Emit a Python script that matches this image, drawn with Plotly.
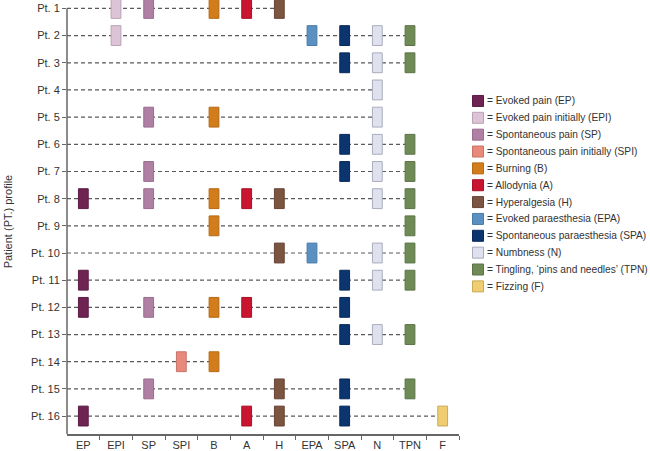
import plotly.graph_objects as go

# ---- data ----
categories = ["EP", "EPI", "SP", "SPI", "B", "A", "H", "EPA", "SPA", "N", "TPN", "F"]
legend_labels = [
    "= Evoked pain (EP)",
    "= Evoked pain initially (EPI)",
    "= Spontaneous pain (SP)",
    "= Spontaneous pain initially (SPI)",
    "= Burning (B)",
    "= Allodynia (A)",
    "= Hyperalgesia (H)",
    "= Evoked paraesthesia (EPA)",
    "= Spontaneous paraesthesia (SPA)",
    "= Numbness (N)",
    "= Tingling, \u2018pins and needles\u2019 (TPN)",
    "= Fizzing (F)",
]
colors = ["#6e2352", "#dcc4d6", "#b07fa4", "#e8897b", "#d27c1c", "#c9152f",
          "#7b5442", "#5b91c2", "#0b356f", "#dfe1ee", "#6e8a55", "#efcd70"]
border_colors = ["#5a1c43", "#b9a3b4", "#9a6c8e", "#c97366", "#b56a14", "#a81027",
                 "#664535", "#4a7aa6", "#08295a", "#a9acbb", "#5b7246", "#c9aa55"]

patients = [f"Pt. {i}" for i in range(1, 17)]
pt1 = ["EPI", "SP", "B", "A", "H"]
pt2 = ["EPI", "EPA", "SPA", "N", "TPN"]
pt3 = ["SPA", "N", "TPN"]
pt4 = ["N"]
pt5 = ["SP", "B", "N"]
pt6 = ["SPA", "N", "TPN"]
pt7 = ["SP", "SPA", "N", "TPN"]
pt8 = ["EP", "SP", "B", "A", "H", "N", "TPN"]
pt9 = ["B", "TPN"]
pt10 = ["H", "EPA", "N", "TPN"]
pt11 = ["EP", "SPA", "N", "TPN"]
pt12 = ["EP", "SP", "B", "A", "SPA"]
pt13 = ["SPA", "N", "TPN"]
pt14 = ["SPI", "B"]
pt15 = ["SP", "H", "SPA", "TPN"]
pt16 = ["EP", "A", "H", "SPA", "F"]
profiles = [pt1, pt2, pt3, pt4, pt5, pt6, pt7, pt8, pt9, pt10, pt11, pt12, pt13, pt14, pt15, pt16]

FONT = "Liberation Sans, Arial, sans-serif"
TXT = "#333333"
AX = "#666666"

n_pt = len(patients)
ypos = [n_pt - i for i in range(n_pt)]  # Pt.1 at top

fig = go.Figure()

# dashed row lines: from the y axis to the patient's last symptom, under the marks
for p, prof in enumerate(profiles):
    last = max(categories.index(c) for c in prof)
    fig.add_shape(type="line", xref="x", yref="y", layer="below",
                  x0=-0.5, x1=last, y0=ypos[p], y1=ypos[p],
                  line=dict(color="#5a5a5a", width=1.2, dash="4px,3px"))

# y-axis line, running from the x axis up to the first patient row
y_bottom = 0.34
fig.add_shape(type="line", xref="paper", yref="y", layer="above",
              x0=0, x1=0, y0=y_bottom, y1=ypos[0],
              line=dict(color=AX, width=1.5))

# rectangles
H = 0.73
for k, cat in enumerate(categories):
    xs, bases = [], []
    for p, prof in enumerate(profiles):
        if cat in prof:
            xs.append(k)
            bases.append(ypos[p] - H / 2)
    if not xs:
        continue
    fig.add_trace(go.Bar(
        x=xs, y=[H] * len(xs), base=bases, width=0.30,
        marker=dict(color=colors[k], line=dict(color=border_colors[k], width=1)),
        showlegend=False, name=cat))

# manual legend (own axes)
leg_y = [-i for i in range(len(categories))]
fig.add_trace(go.Scatter(
    x=[8] * len(categories), y=leg_y, mode="markers",
    marker=dict(symbol="square", size=11, color=colors,
                line=dict(color=border_colors, width=1)),
    hoverinfo="skip", showlegend=False, xaxis="x2", yaxis="y2", cliponaxis=False))
for i, lab in enumerate(legend_labels):
    fig.add_annotation(x=15, y=leg_y[i], xref="x2", yref="y2", text=lab,
                       showarrow=False, xanchor="left", yanchor="middle",
                       font=dict(family=FONT, size=10.2, color=TXT))

# y-axis title
W_PLOT = 392
W_TOT = 583
fig.add_annotation(x=(8 - 67) / W_TOT, y=0.49, xref="paper", yref="paper",
                   xanchor="center", yanchor="middle",
                   text="Patient (PT.) profile", textangle=-90, showarrow=False,
                   font=dict(family=FONT, size=11, color=TXT))

dom_main = W_PLOT / W_TOT
xrange = [-0.5, len(categories) - 0.5]
yrange = [y_bottom, n_pt + 0.31]

fig.update_layout(
    width=650, height=451,
    margin=dict(l=67, r=0, t=0, b=14),
    paper_bgcolor="white", plot_bgcolor="white",
    barmode="overlay",
    font=dict(family=FONT, size=11, color=TXT),
    xaxis=dict(domain=[0, dom_main], range=xrange,
               tickvals=list(range(len(categories))), ticktext=categories,
               ticks="", showline=True, linecolor=AX, linewidth=1.5,
               showgrid=False, zeroline=False,
               tickfont=dict(family=FONT, size=11, color=TXT),
               minor=dict(tickvals=[k + 0.5 for k in range(len(categories))],
                          ticks="outside", ticklen=4, tickcolor=AX, tickwidth=1.2,
                          showgrid=False)),
    yaxis=dict(range=yrange, tickvals=ypos, ticktext=patients,
               ticks="outside", ticklen=4, tickcolor=AX, tickwidth=1.2,
               showline=False, showgrid=False, zeroline=False,
               tickfont=dict(family=FONT, size=11, color=TXT)),
    xaxis2=dict(domain=[(470 - 67) / W_TOT, 1], range=[0, 180], visible=False,
                showgrid=False),
    yaxis2=dict(domain=[0, 1], range=[-19.76, 5.99], visible=False, showgrid=False,
                anchor="x2"),
)

fig.write_html("out.html", config={"displayModeBar": False},
               post_script="document.body.style.margin='0';")
